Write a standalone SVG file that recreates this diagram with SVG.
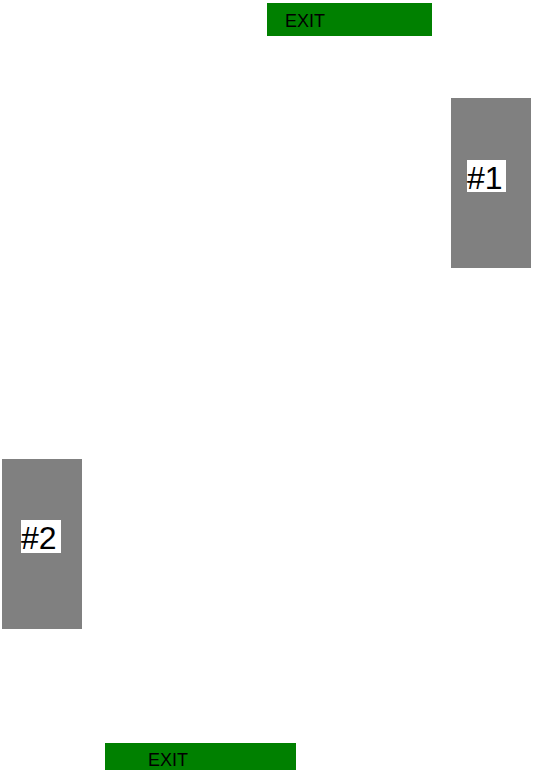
<svg xmlns="http://www.w3.org/2000/svg" width="535" height="770" viewBox="0 0 535 770">
<style>
.exit{fill:#008000}
.exit-t{font-family:"Liberation Sans",Arial,sans-serif;font-size:18px;fill:#000}
.stand{fill:#808080}
.lbl-bg{fill:#fff}
.lbl{font-family:"Liberation Sans",Arial,sans-serif;font-size:32px;fill:#000}
</style>
<rect width="535" height="770" fill="#fff"/>
<g id="exit-top">
<rect class="exit" x="267" y="3" width="165" height="33"/>
<text class="exit-t" x="285" y="27">EXIT</text>
</g>
<g id="stand-1">
<rect class="stand" x="451" y="98" width="80" height="170"/>
<rect class="lbl-bg" x="467" y="160" width="39" height="32"/>
<text class="lbl" x="467" y="189">#1</text>
</g>
<g id="stand-2">
<rect class="stand" x="2" y="459" width="80" height="170"/>
<rect class="lbl-bg" x="21" y="520" width="40" height="33"/>
<text class="lbl" x="21" y="549">#2</text>
</g>
<g id="exit-bottom">
<rect class="exit" x="105" y="743" width="191" height="27"/>
<text class="exit-t" x="148" y="766">EXIT</text>
</g>
<g id="connectors"></g>
</svg>
